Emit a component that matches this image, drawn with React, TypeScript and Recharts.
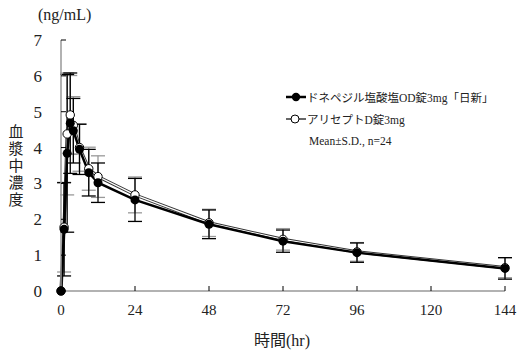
import { LineChart, Line, XAxis, YAxis, ErrorBar, Legend } from 'recharts'

const HOURS = [0, 1, 2, 3, 4, 6, 9, 12, 24, 48, 72, 96, 144]
const GENERIC_MEAN = [0, 1.72, 3.84, 4.68, 4.47, 3.95, 3.3, 3.02, 2.54, 1.86, 1.39, 1.07, 0.63]
const GENERIC_SD = [0, 1.3, 2.2, 1.4, 0.9, 0.7, 0.65, 0.55, 0.6, 0.4, 0.31, 0.27, 0.3]
const BRAND_MEAN = [0, 1.78, 4.38, 4.91, 4.62, 4.0, 3.41, 3.19, 2.68, 1.9, 1.44, 1.09, 0.65]
const BRAND_SD = [0, 1.25, 1.7, 1.1, 0.8, 0.66, 0.6, 0.58, 0.5, 0.38, 0.3, 0.26, 0.28]
const X_TICKS = [0, 24, 48, 72, 96, 120, 144]
const Y_TICKS = [0, 1, 2, 3, 4, 5, 6, 7]

const GENERIC_NAME = 'ドネペジル塩酸塩OD錠3mg「日新」'
const BRAND_NAME = 'アリセプトD錠3mg'
const NOTE = 'Mean±S.D., n=24'
const Y_TITLE = ['血', '漿', '中', '濃', '度']

const SERIF = '"Liberation Serif", "Noto Sans CJK JP", serif'

const data = HOURS.map((t, i) => ({
  t,
  generic: GENERIC_MEAN[i],
  genericSd: GENERIC_SD[i],
  brand: BRAND_MEAN[i],
  brandSd: BRAND_SD[i],
}))

function YTick(props: any) {
  const { x, y, payload } = props
  return (
    <g>
      <line x1={x + 19} x2={x + 24} y1={y} y2={y} stroke="#000" strokeWidth={1} />
      <text x={x} y={y} dy="0.35em" textAnchor="end" fontSize={17} fontFamily={SERIF} fill="#222">
        {payload.value}
      </text>
    </g>
  )
}

function XTick(props: any) {
  const { x, y, payload } = props
  return (
    <g>
      <line x1={x} x2={x} y1={y - 13} y2={y - 18} stroke="#000" strokeWidth={1} />
      <text x={x} y={y} dy="0.71em" textAnchor="middle" fontSize={15} fontFamily={SERIF} fill="#222">
        {payload.value}
      </text>
    </g>
  )
}

function YTitle() {
  return (
    <g fontFamily={SERIF} fill="#222">
      <text x={38} y={20} fontSize={16}>(ng/mL)</text>
      {Y_TITLE.map((c, i) => (
        <text key={c} x={16} y={137 + i * 17} fontSize={15} textAnchor="middle">{c}</text>
      ))}
    </g>
  )
}

function XTitle() {
  return (
    <text x={282} y={346} fontSize={16} textAnchor="middle" fontFamily={SERIF} fill="#222">
      時間(hr)
    </text>
  )
}

function LegendBox() {
  const row = { display: 'flex', alignItems: 'center', height: 22, whiteSpace: 'nowrap' as const }
  return (
    <div style={{ fontFamily: SERIF, fontSize: 11.5, color: '#222' }}>
      <div style={row}>
        <svg width={21} height={12}>
          <line x1={0} x2={20} y1={6} y2={6} stroke="#000" strokeWidth={2.5} />
          <circle cx={10} cy={6} r={4.2} fill="#000" />
        </svg>
        <span>{GENERIC_NAME}</span>
      </div>
      <div style={row}>
        <svg width={21} height={12}>
          <line x1={0} x2={20} y1={6} y2={6} stroke="#000" strokeWidth={1.2} />
          <circle cx={9} cy={6} r={4} fill="#fff" stroke="#000" strokeWidth={1} />
        </svg>
        <span>{BRAND_NAME}</span>
      </div>
      <div style={{ ...row, paddingLeft: 23 }}>{NOTE}</div>
    </div>
  )
}

export default function App() {
  return (
    <div style={{ position: 'absolute', left: 0, top: 0, background: '#fff' }}>
      <LineChart width={521} height={355} data={data} margin={{ top: 40, right: 16, bottom: 0, left: 0 }}>
        <XAxis
          dataKey="t"
          type="number"
          domain={[0, 144]}
          ticks={X_TICKS}
          height={64}
          tickSize={0}
          tickLine={false}
          tickMargin={13}
          tick={<XTick />}
          axisLine={{ stroke: '#999', strokeWidth: 1.5 }}
          label={<XTitle />}
        />
        <YAxis
          type="number"
          domain={[0, 7]}
          ticks={Y_TICKS}
          width={61}
          tickSize={0}
          tickLine={false}
          tickMargin={19}
          tick={<YTick />}
          axisLine={{ stroke: '#999', strokeWidth: 1.5 }}
          label={<YTitle />}
        />
        <Legend
          layout="horizontal"
          verticalAlign="middle"
          align="center"
          content={<LegendBox />}
          wrapperStyle={{ position: 'absolute', left: 286, top: 86, width: 230 }}
        />
        <Line
          dataKey="brand"
          stroke="#333"
          strokeWidth={3.2}
          dot={false}
          legendType="none"
          isAnimationActive={false}
        >
          <ErrorBar dataKey="brandSd" width={7} stroke="#999" strokeWidth={1.3} direction="y" />
        </Line>
        <Line
          dataKey="brand"
          stroke="#fff"
          strokeWidth={1.2}
          dot={{ r: 4.2, fill: '#fff', stroke: '#000', strokeWidth: 1 }}
          isAnimationActive={false}
        />
        <Line
          dataKey="generic"
          stroke="#000"
          strokeWidth={2.5}
          dot={{ r: 4.5, fill: '#000', stroke: 'none' }}
          isAnimationActive={false}
        >
          <ErrorBar dataKey="genericSd" width={7} stroke="#000" strokeWidth={1.3} direction="y" />
        </Line>
      </LineChart>
    </div>
  )
}
